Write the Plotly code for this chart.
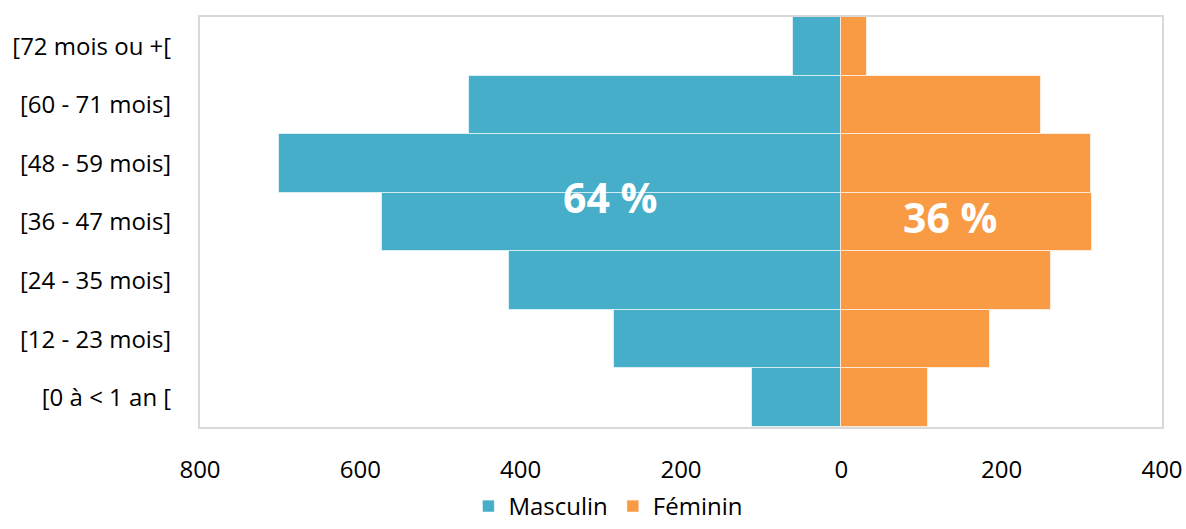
import plotly.graph_objects as go

categories = ["[0 à < 1 an [", "[12 - 23 mois]", "[24 - 35 mois]", "[36 - 47 mois]",
              "[48 - 59 mois]", "[60 - 71 mois]", "[72 mois ou +["]
masculin = [111, 283, 414, 573, 702, 465, 60]
feminin = [108, 186, 262, 313, 312, 249, 32]
tick_vals = [-800, -600, -400, -200, 0, 200, 400]
tick_text = ["800", "600", "400", "200", "0", "200", "400"]
pct_labels = ["64 %", "36 %"]

FONT = "Open Sans"

fig = go.Figure()
fig.add_trace(go.Bar(
    y=categories, x=[-v for v in masculin], orientation="h", name="Masculin",
    marker=dict(color="#47AECA", line=dict(color="rgba(255,255,255,0.6)", width=1)),
    hoverinfo="skip",
))
fig.add_trace(go.Bar(
    y=categories, x=feminin, orientation="h", name="Féminin",
    marker=dict(color="#F99A44", line=dict(color="rgba(255,255,255,0.6)", width=1)),
    hoverinfo="skip",
))

fig.add_annotation(x=-288, y=3.43, xref="x", yref="y", text=f"<b>{pct_labels[0]}</b>",
                   showarrow=False, font=dict(family=FONT, size=41, color="white"))
fig.add_annotation(x=136, y=3.09, xref="x", yref="y", text=f"<b>{pct_labels[1]}</b>",
                   showarrow=False, font=dict(family=FONT, size=41, color="white"))

fig.update_layout(
    width=1186, height=529,
    margin=dict(l=200, r=24, t=17, b=102, autoexpand=False),
    paper_bgcolor="white", plot_bgcolor="white",
    barmode="relative", bargap=0,
    font=dict(family=FONT, size=24, color="#000000"),
    showlegend=True,
    legend=dict(orientation="h", x=0.513, xanchor="center", xref="container",
                y=-0.052, yanchor="bottom", yref="container",
                font=dict(family=FONT, size=24), itemwidth=30, traceorder="normal"),
    xaxis=dict(range=[-800, 400], tickvals=tick_vals, ticktext=tick_text,
               showgrid=False, zeroline=True, zerolinecolor="#D9D9D9", zerolinewidth=2,
               showline=True, linecolor="#D9D9D9", linewidth=2, mirror=True,
               layer="above traces",
               ticks="", ticklabelstandoff=20, automargin=False, fixedrange=True),
    yaxis=dict(categoryorder="array", categoryarray=categories,
               showgrid=False, showline=True, linecolor="#D9D9D9", linewidth=2, mirror=True,
               ticks="", ticklabelstandoff=22, automargin=False, fixedrange=True),
)

fig.write_html("out.html", config={"displayModeBar": False},
               post_script="document.body.style.margin='0';document.body.style.overflow='hidden';")
